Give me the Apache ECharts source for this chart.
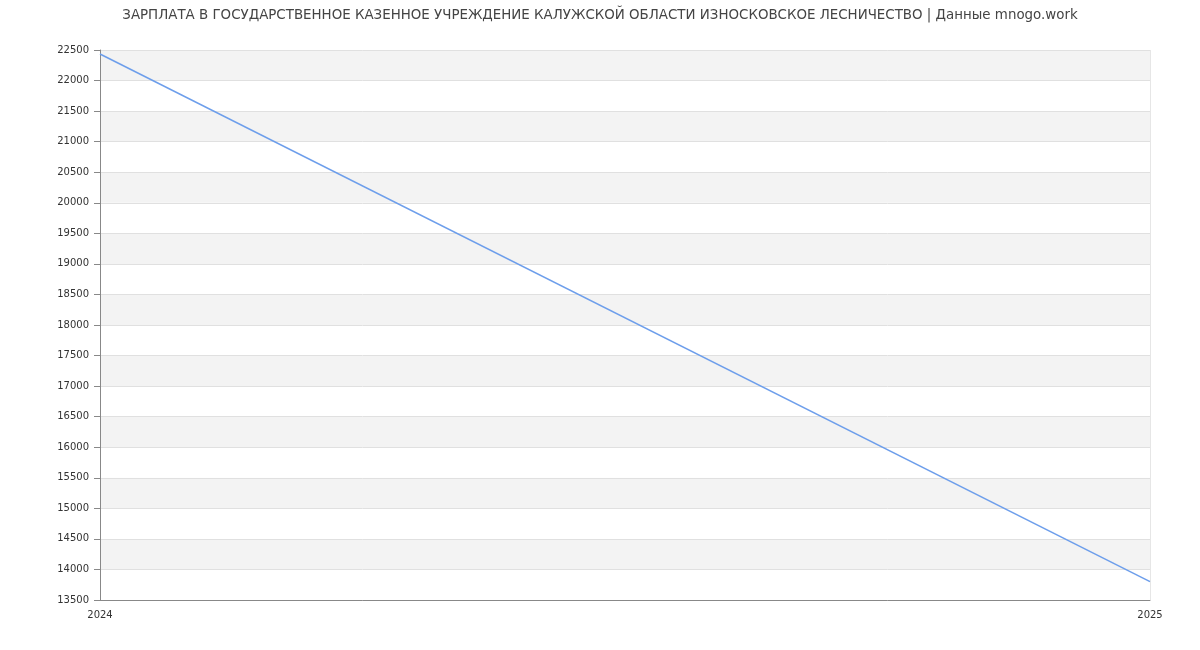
<!DOCTYPE html>
<html>
<head>
<meta charset="utf-8">
<script src="https://cdn.jsdelivr.net/npm/echarts@6/dist/echarts.min.js"></script>
<style>
  html, body { margin: 0; padding: 0; background: #fff; }
  #chart { width: 1200px; height: 650px; }
</style>
</head>
<body>
<div id="chart"></div>
<script>
// данные
var years = ['2024', '2025'];
var salary = [22435, 13800];

var chart = echarts.init(document.getElementById('chart'));
chart.setOption({
  animation: false,
  title: {
    text: 'ЗАРПЛАТА В ГОСУДАРСТВЕННОЕ КАЗЕННОЕ УЧРЕЖДЕНИЕ КАЛУЖСКОЙ ОБЛАСТИ ИЗНОСКОВСКОЕ ЛЕСНИЧЕСТВО | Данные mnogo.work',
    left: 'center',
    top: 4,
    textStyle: { fontFamily: 'DejaVu Sans', fontSize: 13.4, fontWeight: 'normal', color: '#444' }
  },
  grid: { left: 100, right: 50, top: 50, bottom: 50 },
  xAxis: {
    type: 'category',
    data: years,
    boundaryGap: false,
    axisLine: { lineStyle: { color: '#888' } },
    axisTick: { show: false },
    axisLabel: { fontFamily: 'DejaVu Sans', fontSize: 10, color: '#333', margin: 10 },
    splitLine: { show: true, lineStyle: { color: '#e6e6e6' } }
  },
  yAxis: {
    type: 'value',
    min: 13500,
    max: 22500,
    interval: 500,
    axisLine: { show: true, lineStyle: { color: '#888' } },
    axisTick: { show: true, length: 6, lineStyle: { color: '#888' } },
    axisLabel: {
      fontFamily: 'DejaVu Sans', fontSize: 10, color: '#333', margin: 11,
      formatter: function (v) { return String(v); }
    },
    splitLine: { show: true, lineStyle: { color: '#e0e0e0' } },
    splitArea: { show: true, areaStyle: { color: ['#ffffff', '#f3f3f3'] } }
  },
  series: [{
    type: 'line',
    data: salary,
    showSymbol: false,
    lineStyle: { color: '#6d9eeb', width: 1.5 }
  }]
});
</script>
</body>
</html>
